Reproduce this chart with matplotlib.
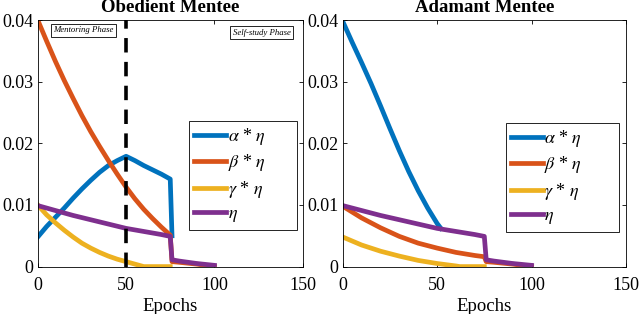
import matplotlib
matplotlib.use('Agg')
import matplotlib.pyplot as plt
from matplotlib.ticker import FuncFormatter

plt.rcParams['font.family'] = ['Liberation Serif', 'DejaVu Serif']
plt.rcParams['mathtext.fontset'] = 'stix'

# MATLAB default colours
c_alpha = '#0072BD'
c_beta = '#D95319'
c_gamma = '#EDB120'
c_eta = '#7E2F8E'

labels = [r'$\alpha$ * $\eta$', r'$\beta$ * $\eta$', r'$\gamma$ * $\eta$', r'$\eta$']

# eta is the same schedule in both runs
eta_x = [0, 10, 20, 30, 40, 50, 60, 70, 75, 76, 80, 90, 100]
eta_y = [0.0099, 0.0091, 0.0083, 0.0076, 0.0069, 0.0062, 0.0057, 0.0052, 0.0049,
         0.0011, 0.0009, 0.0005, 0.0002]

# ---- Obedient mentee ----
ob_alpha_x = [0, 5, 10, 15, 20, 25, 30, 35, 40, 45, 50, 55, 60, 65, 70, 75, 76]
ob_alpha_y = [0.0048, 0.0065, 0.0080, 0.0095, 0.0111, 0.0126, 0.0140, 0.0153,
              0.0164, 0.0172, 0.0179, 0.0172, 0.0164, 0.0157, 0.0150, 0.0142, 0.0050]

ob_beta_x = [0, 5, 10, 15, 20, 25, 30, 35, 40, 45, 50, 55, 60, 65, 70, 75, 76, 80, 90, 100]
ob_beta_y = [0.0400, 0.0366, 0.0333, 0.0302, 0.0273, 0.0245, 0.0219, 0.0195, 0.0172,
             0.0150, 0.0129, 0.0110, 0.0093, 0.0078, 0.0064, 0.0051,
             0.0008, 0.0007, 0.0004, 0.0]

ob_gamma_x = [0, 5, 10, 15, 20, 25, 30, 35, 40, 45, 50, 55, 60, 65, 70, 75]
ob_gamma_y = [0.0100, 0.0084, 0.0071, 0.0059, 0.0048, 0.0038, 0.0030, 0.0023,
              0.0017, 0.0012, 0.0008, 0.0004, 0.0, 0.0, 0.0, 0.0]

# ---- Adamant mentee ----
ad_alpha_x = [0, 5, 10, 15, 20, 25, 30, 35, 40, 45, 50, 52]
ad_alpha_y = [0.0398, 0.0364, 0.0331, 0.0297, 0.0261, 0.0224, 0.0188, 0.0154,
              0.0123, 0.0095, 0.0070, 0.0062]

ad_beta_x = [0, 10, 20, 30, 40, 50, 60, 70, 75, 76, 80, 90, 100]
ad_beta_y = [0.0098, 0.0079, 0.0063, 0.0049, 0.0038, 0.0030, 0.0023, 0.0018, 0.0016,
             0.0008, 0.0007, 0.0004, 0.0]

ad_gamma_x = [0, 10, 20, 30, 40, 50, 60, 62, 75]
ad_gamma_y = [0.0048, 0.0035, 0.0025, 0.0017, 0.0010, 0.0005, 0.0001, 0.0, 0.0]

phase_switch = 50


def fmt(v, pos):
	return '0' if abs(v) < 1e-12 else '%g' % v


def setup(ax, title):
	ax.set_xlim(0, 150)
	ax.set_ylim(0, 0.04)
	ax.set_xticks([0, 50, 100, 150])
	ax.set_yticks([0, 0.01, 0.02, 0.03, 0.04])
	ax.yaxis.set_major_formatter(FuncFormatter(fmt))
	ax.tick_params(direction='in', top=True, right=True, labelsize=13,
				   length=3, width=0.6, pad=3)
	ax.tick_params(axis='x', pad=7.3)
	for s in ax.spines.values():
		s.set_linewidth(0.6)
	ax.set_xlabel('Epochs', fontsize=13.5, labelpad=3)
	ax.set_title(title, fontsize=13.5, fontweight='bold', pad=6)


fig = plt.figure(figsize=(6.4, 3.14), dpi=100)
ax1 = fig.add_axes([0.059, 0.151, 0.414, 0.785])
ax2 = fig.add_axes([0.5355, 0.151, 0.4425, 0.785])

lw = 3.4
ax1.plot(ob_alpha_x, ob_alpha_y, color=c_alpha, lw=lw, label=labels[0])
ax1.plot(ob_beta_x, ob_beta_y, color=c_beta, lw=lw, label=labels[1])
ax1.plot(ob_gamma_x, ob_gamma_y, color=c_gamma, lw=lw, label=labels[2])
ax1.plot(eta_x, eta_y, color=c_eta, lw=lw, label=labels[3])
ax1.axvline(phase_switch, color='black', lw=2.6, ls=(0, (4, 2.6)))
ax1.text(0.173, 0.958, 'Mentoring Phase', transform=ax1.transAxes, fontsize=6.3,
		 style='italic', ha='center', va='center',
		 bbox=dict(boxstyle='square,pad=0.3', fc='white', ec='black', lw=0.6))
ax1.text(0.846, 0.949, 'Self-study Phase', transform=ax1.transAxes, fontsize=6.3,
		 style='italic', ha='center', va='center',
		 bbox=dict(boxstyle='square,pad=0.3', fc='white', ec='black', lw=0.6))
setup(ax1, 'Obedient Mentee')

ax2.plot(ad_alpha_x, ad_alpha_y, color=c_alpha, lw=lw, label=labels[0])
ax2.plot(ad_beta_x, ad_beta_y, color=c_beta, lw=lw, label=labels[1])
ax2.plot(ad_gamma_x, ad_gamma_y, color=c_gamma, lw=lw, label=labels[2])
ax2.plot(eta_x, eta_y, color=c_eta, lw=lw, label=labels[3])
setup(ax2, 'Adamant Mentee')

legend_boxes = {ax1: (0.570, 0.592, 0.407, 0.0), ax2: (0.575, 0.584, 0.401, 0.0)}
for ax in (ax1, ax2):
	leg = ax.legend(loc='upper left', bbox_to_anchor=legend_boxes[ax], mode='expand',
					fontsize=13, fancybox=False, edgecolor='black', framealpha=1,
					handlelength=1.75, handletextpad=0.1, labelspacing=0.3,
					borderpad=0.3, borderaxespad=0)
	leg.get_frame().set_linewidth(0.6)

fig.savefig('out.png', dpi=100)
